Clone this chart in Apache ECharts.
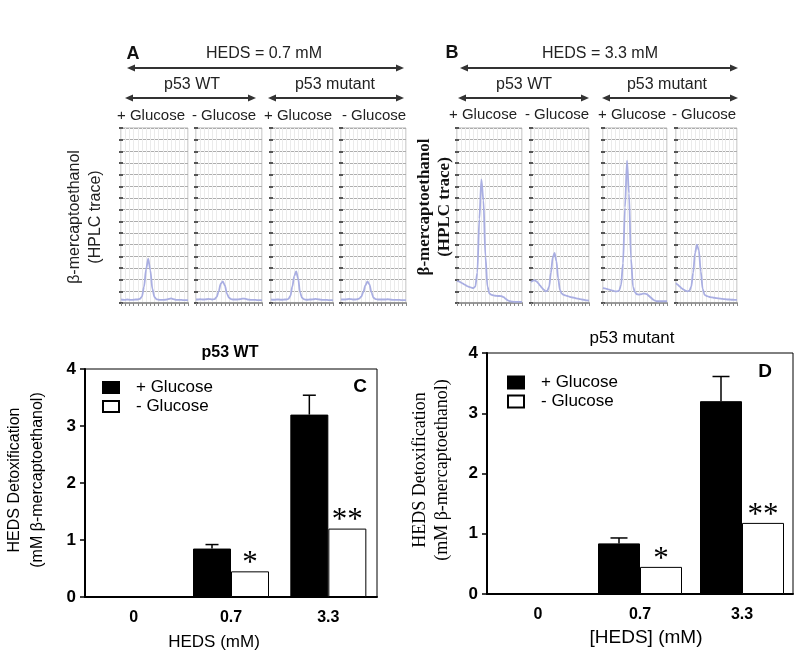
<!DOCTYPE html>
<html>
<head>
<meta charset="utf-8">
<script src="https://cdn.jsdelivr.net/npm/echarts/dist/echarts.min.js"></script>
<style>
html,body{margin:0;padding:0;background:#fff;}
#chart{width:800px;height:656px;}
</style>
</head>
<body>
<div id="chart"></div>
<script>
// ---------------- DATA ----------------
// HPLC traces (retention time axis, arbitrary units), 0.5 step
const traceTime = [0,0.5,1,1.5,2,2.5,3,3.5,4,4.5,5,5.5,6,6.5,7,7.5,8,8.5,9,9.5,10,10.5,11,11.5,12,12.5,13,13.5,14,14.5,15,15.5,16];
// Panel A: HEDS = 0.7 mM
const traceA_wt_plus  = [0.3,0.28,0.27,0.3,0.28,0.27,0.28,0.3,0.3,0.35,0.55,1.4,2.9,3.8,2.8,1.2,0.5,0.32,0.28,0.27,0.27,0.28,0.3,0.35,0.4,0.33,0.28,0.27,0.26,0.26,0.25,0.25,0.25];
const traceA_wt_minus = [0.3,0.3,0.32,0.3,0.3,0.32,0.35,0.33,0.3,0.34,0.5,1.0,1.65,1.85,1.5,0.8,0.45,0.33,0.3,0.3,0.3,0.32,0.35,0.38,0.35,0.3,0.28,0.27,0.26,0.26,0.25,0.25,0.25];
const traceA_mut_plus = [0.3,0.28,0.28,0.3,0.3,0.28,0.28,0.3,0.3,0.35,0.6,1.4,2.3,2.7,2.1,0.9,0.45,0.32,0.28,0.28,0.3,0.3,0.32,0.35,0.33,0.3,0.28,0.27,0.26,0.26,0.25,0.25,0.25];
const traceA_mut_minus= [0.3,0.3,0.3,0.32,0.35,0.33,0.3,0.3,0.32,0.38,0.55,0.95,1.5,1.85,1.6,0.9,0.45,0.34,0.3,0.3,0.3,0.3,0.3,0.32,0.3,0.28,0.27,0.27,0.26,0.26,0.25,0.25,0.25];
// Panel B: HEDS = 3.3 mM
const traceB_wt_plus  = [1.9,1.85,1.75,1.65,1.55,1.45,1.38,1.32,1.28,1.4,2.6,7.2,10.6,8.8,4.0,1.4,0.8,0.7,0.65,0.62,0.6,0.6,0.58,0.5,0.35,0.22,0.15,0.12,0.1,0.1,0.1,0.1,0.1];
const traceB_wt_minus = [1.8,1.9,1.95,1.85,1.7,1.5,1.3,1.15,1.0,1.05,1.4,2.6,3.9,4.3,3.6,2.1,1.1,0.8,0.7,0.65,0.6,0.55,0.5,0.47,0.44,0.4,0.37,0.34,0.3,0.28,0.25,0.22,0.2];
const traceB_mut_plus = [1.3,1.25,1.2,1.15,1.1,1.05,1.0,1.0,1.05,1.5,3.4,8.2,12.2,9.4,3.8,1.4,0.9,0.75,0.72,0.75,0.8,0.8,0.75,0.6,0.45,0.3,0.2,0.15,0.15,0.15,0.15,0.15,0.15];
const traceB_mut_minus= [1.7,1.55,1.4,1.25,1.15,1.05,1.0,1.05,1.4,2.6,4.3,5.0,4.5,2.7,1.2,0.7,0.6,0.55,0.5,0.48,0.45,0.42,0.4,0.38,0.36,0.34,0.32,0.3,0.3,0.28,0.28,0.27,0.27];

// Panels C/D: bar charts
const hedsCats   = ['0', '0.7', '3.3'];
const wtPlus     = [0, 0.85, 3.2];
const wtPlusErr  = [0, 0.07, 0.34];
const wtMinus    = [0, 0.45, 1.2];
const mutPlus    = [0, 0.84, 3.2];
const mutPlusErr = [0, 0.09, 0.41];
const mutMinus   = [0, 0.45, 1.18];
const sigMarks   = ['', '*', '**'];
const seriesNames = ['+ Glucose', '- Glucose'];

// ---------------- LAYOUT ----------------
const SANS = '"Liberation Sans", Arial, Helvetica, sans-serif';
const SERIF = '"Liberation Serif", "Times New Roman", serif';
const traces = [traceA_wt_plus, traceA_wt_minus, traceA_mut_plus, traceA_mut_minus,
                traceB_wt_plus, traceB_wt_minus, traceB_mut_plus, traceB_mut_minus];
const traceBoxes = [[121,128,67,175],[196,128,66,175],[271,128,62,175],[341,128,65,175],
                    [457,128,65,175],[531,128,58,175],[603,128,64,175],[676,128,61,175]];

const grids = [], xAxes = [], yAxes = [], series = [];

traces.forEach((tr, i) => {
  const [l, t, w, h] = traceBoxes[i];
  grids.push({left: l, top: t, width: w, height: h, show: true, borderColor: '#b0b0b0', borderWidth: 1, backgroundColor: '#fff'});
  const g = grids.length - 1;
  const xi = xAxes.length;
  xAxes.push({type: 'value', gridIndex: g, min: 0, max: 16, interval: 1,
    axisLine: {show: false}, axisTick: {show: true, length: 3, lineStyle: {color: '#8a8a8a'}},
    axisLabel: {show: false}, splitLine: {show: true, lineStyle: {color: '#ebebeb', width: 1}}});
  xAxes.push({type: 'value', gridIndex: g, position: 'top', min: 0, max: 16,
    axisLine: {show: true, lineStyle: {color: '#999', width: 2}}, axisTick: {show: false},
    axisLabel: {show: false}, splitLine: {show: false}});
  const yi = yAxes.length;
  yAxes.push({type: 'value', gridIndex: g, min: 0, max: 15, interval: 1,
    axisLine: {show: false}, axisTick: {show: true, inside: true, length: 2, lineStyle: {color: '#555', width: 2}},
    axisLabel: {show: false}, splitLine: {show: true, lineStyle: {color: '#adadad', width: 1}}});
  yAxes.push({type: 'value', gridIndex: g, position: 'right', min: 0, max: 15, interval: 1,
    axisLine: {show: false}, axisTick: {show: true, inside: true, length: 2, lineStyle: {color: '#555', width: 2}},
    axisLabel: {show: false}, splitLine: {show: false}});
  series.push({type: 'line', xAxisIndex: xi, yAxisIndex: yi,
    data: traceTime.map((tt, j) => [tt, tr[j]]),
    showSymbol: false, smooth: 0.3, smoothMonotone: 'x',
    lineStyle: {color: '#a9aee2', width: 1.8}, silent: true, z: 3});
});

const barPanels = [
  {box: [85, 369, 292, 228], bw: 38, cap: 13, plus: wtPlus, err: wtPlusErr, minus: wtMinus},
  {box: [487, 353, 306, 241], bw: 42, cap: 17, plus: mutPlus, err: mutPlusErr, minus: mutMinus}
];

barPanels.forEach((bp, k) => {
  const [l, t, w, h] = bp.box;
  grids.push({left: l, top: t, width: w, height: h, show: true, borderColor: '#000', borderWidth: 1});
  const g = grids.length - 1;
  const xi = xAxes.length, yi = yAxes.length;
  xAxes.push({type: 'category', gridIndex: g, data: hedsCats,
    axisLine: {show: true, lineStyle: {color: '#000', width: 2}}, axisTick: {show: false},
    axisLabel: {color: '#000', fontSize: 16, fontWeight: 'bold', fontFamily: SANS, margin: 13}});
  yAxes.push({type: 'value', gridIndex: g, min: 0, max: 4, interval: 1,
    axisLine: {show: true, lineStyle: {color: '#000', width: 2}},
    axisTick: {show: true, length: 5, lineStyle: {color: '#000', width: 1.5}},
    axisLabel: {color: '#000', fontSize: 17, fontWeight: 'bold', fontFamily: SANS, margin: 9},
    splitLine: {show: false}});
  series.push({type: 'bar', name: seriesNames[0], xAxisIndex: xi, yAxisIndex: yi, data: bp.plus,
    barWidth: bp.bw, barGap: '0%', itemStyle: {color: '#000', borderColor: '#000', borderWidth: 1}, z: 2});
  series.push({type: 'bar', name: seriesNames[1], xAxisIndex: xi, yAxisIndex: yi, data: bp.minus,
    barWidth: bp.bw, barGap: '0%', itemStyle: {color: '#fff', borderColor: '#000', borderWidth: 1}, z: 2,
    label: {show: true, position: 'top', distance: -8, formatter: p => sigMarks[p.dataIndex],
      fontSize: 31, fontFamily: SERIF, color: '#000'}});
  const off = -bp.bw / 2, cap = bp.cap;
  series.push({type: 'custom', xAxisIndex: xi, yAxisIndex: yi, z: 4, silent: true,
    data: bp.plus.map((v, j) => [j, v, bp.err[j]]),
    renderItem: function (params, api) {
      const e = api.value(2);
      if (!e) return null;
      const x = api.coord([api.value(0), 0])[0] + off;
      const y1 = api.coord([api.value(0), api.value(1)])[1];
      const y2 = api.coord([api.value(0), api.value(1) + e])[1];
      return {type: 'group', children: [
        {type: 'line', shape: {x1: x, y1: y1, x2: x, y2: y2}, style: {stroke: '#000', lineWidth: 1.5}},
        {type: 'line', shape: {x1: x - cap / 2, y1: y2, x2: x + cap / 2, y2: y2}, style: {stroke: '#000', lineWidth: 1.5}}
      ]};
    }});
});

// ---------------- DECORATION ----------------
function arrow(x1, x2, y) {
  const hl = 8, hw = 3.5, c = '#333';
  return {type: 'group', children: [
    {type: 'line', shape: {x1: x1 + 3, y1: y, x2: x2 - 3, y2: y}, style: {stroke: c, lineWidth: 2}},
    {type: 'polygon', shape: {points: [[x1, y], [x1 + hl, y - hw], [x1 + hl, y + hw]]}, style: {fill: c}},
    {type: 'polygon', shape: {points: [[x2, y], [x2 - hl, y - hw], [x2 - hl, y + hw]]}, style: {fill: c}}
  ]};
}
function txt(x, y, text, size, opts) {
  opts = opts || {};
  return {type: 'text', x: x, y: y, rotation: opts.rot || 0, z: 10,
    style: {text: text, fontSize: size, fontFamily: opts.family || SANS, fontWeight: opts.weight || 'normal',
      fill: opts.color || '#222', align: 'center', verticalAlign: 'middle', lineHeight: opts.lh || size * 1.2}};
}

const graphics = [
  txt(133, 54, 'A', 18, {weight: 'bold', color: '#111'}),
  txt(264, 54, 'HEDS = 0.7 mM', 16),
  arrow(127, 404, 68),
  txt(192, 85, 'p53 WT', 16),
  txt(335, 85, 'p53 mutant', 16),
  arrow(125, 256, 98),
  arrow(268, 404, 98),
  txt(151, 116, '+ Glucose', 15),
  txt(224, 116, '- Glucose', 15),
  txt(298, 116, '+ Glucose', 15),
  txt(374, 116, '- Glucose', 15),
  txt(85, 217, 'β-mercaptoethanol\n(HPLC trace)', 16, {rot: Math.PI / 2, lh: 21}),

  txt(452, 53, 'B', 18, {weight: 'bold', color: '#111'}),
  txt(600, 54, 'HEDS = 3.3 mM', 16),
  arrow(460, 738, 68),
  txt(524, 85, 'p53 WT', 16),
  txt(667, 85, 'p53 mutant', 16),
  arrow(458, 589, 98),
  arrow(602, 738, 98),
  txt(483, 115, '+ Glucose', 15),
  txt(557, 115, '- Glucose', 15),
  txt(632, 115, '+ Glucose', 15),
  txt(704, 115, '- Glucose', 15),
  txt(435, 207, 'β-mercaptoethanol\n(HPLC trace)', 17, {rot: Math.PI / 2, weight: 'bold', family: SERIF, color: '#111', lh: 20}),

  txt(230, 353, 'p53 WT', 16, {weight: 'bold', color: '#000'}),
  txt(360, 387, 'C', 19, {weight: 'bold', color: '#000'}),
  txt(26, 480, 'HEDS Detoxification\n(mM β-mercaptoethanol)', 16, {rot: Math.PI / 2, color: '#000', lh: 23}),
  txt(214, 642, 'HEDS (mM)', 17, {color: '#000'}),

  txt(632, 338, 'p53 mutant', 17, {color: '#000'}),
  txt(765, 372, 'D', 19, {weight: 'bold', color: '#000'}),
  txt(431, 470, 'HEDS Detoxification\n(mM β-mercaptoethanol)', 18, {rot: Math.PI / 2, family: SERIF, color: '#000', lh: 22}),
  txt(646, 638, '[HEDS] (mM)', 19, {color: '#000'})
];

const legendCommon = {orient: 'vertical', data: seriesNames, icon: 'rect', selectedMode: false,
  itemGap: 2, textStyle: {fontSize: 17, fontFamily: SANS, color: '#000', padding: [0, 0, 0, 12]}};

const option = {
  backgroundColor: '#fff',
  animation: false,
  textStyle: {fontFamily: SANS},
  grid: grids,
  xAxis: xAxes,
  yAxis: yAxes,
  legend: [
    Object.assign({}, legendCommon, {left: 97, top: 374, itemWidth: 16, itemHeight: 11}),
    Object.assign({}, legendCommon, {left: 502, top: 369, itemWidth: 16, itemHeight: 12})
  ],
  series: series,
  graphic: graphics
};

const chart = echarts.init(document.getElementById('chart'), null, {renderer: 'canvas'});
chart.setOption(option);
</script>
</body>
</html>
